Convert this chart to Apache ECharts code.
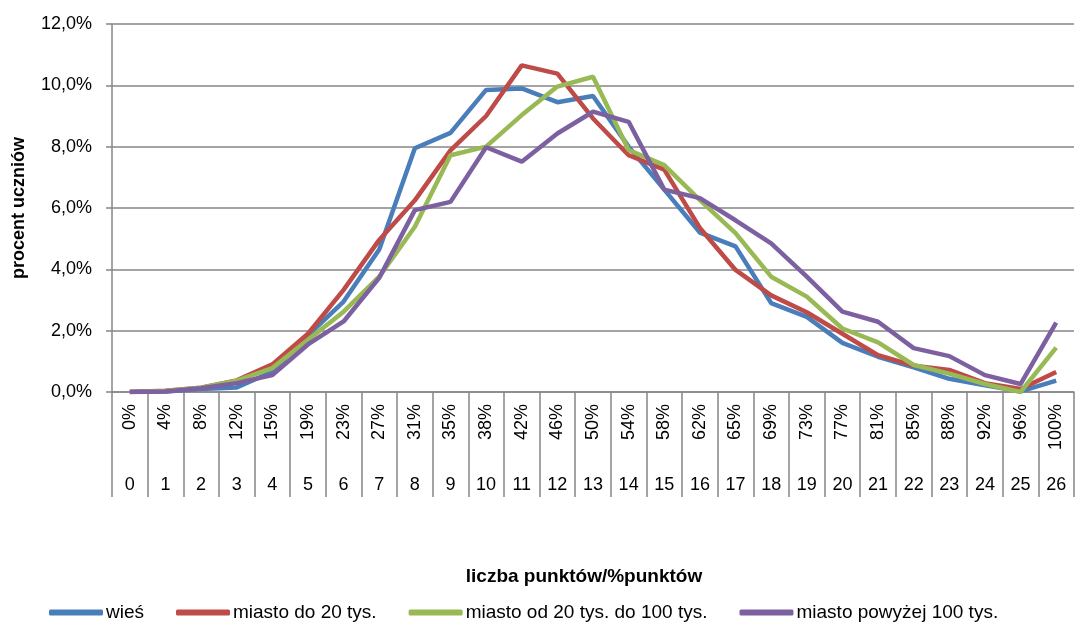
<!DOCTYPE html>
<html>
<head>
<meta charset="utf-8">
<script src="https://cdn.jsdelivr.net/npm/echarts@6/dist/echarts.min.js"></script>
<style>
  html, body { margin: 0; padding: 0; background: #fff; }
  #chart { width: 1076px; height: 622px; }
</style>
</head>
<body>
<div id="chart"></div>
<script>
// kategorie osi X: liczba punktów i procent punktów
const points = ['0', '1', '2', '3', '4', '5', '6', '7', '8', '9', '10', '11', '12', '13',
  '14', '15', '16', '17', '18', '19', '20', '21', '22', '23', '24', '25', '26']
const percents = ['0%', '4%', '8%', '12%', '15%', '19%', '23%', '27%', '31%', '35%', '38%', '42%',
  '46%', '50%', '54%', '58%', '62%', '65%', '69%', '73%', '77%', '81%', '85%', '88%', '92%', '96%', '100%']

// procent uczniów
const wies = [0, 0.02, 0.1, 0.15, 0.66, 1.85, 2.95, 4.65, 7.95, 8.45, 9.85, 9.9, 9.45, 9.65,
  8.0, 6.6, 5.2, 4.75, 2.9, 2.45, 1.6, 1.15, 0.8, 0.43, 0.22, 0.02, 0.37]
const miastoDo20 = [0, 0.04, 0.14, 0.38, 0.9, 1.9, 3.33, 4.96, 6.25, 7.88, 9.0, 10.65, 10.38, 8.92,
  7.72, 7.25, 5.35, 3.98, 3.15, 2.6, 1.9, 1.2, 0.86, 0.72, 0.29, 0.1, 0.65]
const miasto20do100 = [0, 0.03, 0.14, 0.37, 0.78, 1.7, 2.62, 3.76, 5.39, 7.72, 8.0, 9.03, 9.96, 10.28,
  7.89, 7.4, 6.26, 5.18, 3.76, 3.11, 2.07, 1.62, 0.88, 0.6, 0.26, 0.0, 1.45]
const miastoPow100 = [0, 0.02, 0.12, 0.29, 0.55, 1.55, 2.3, 3.72, 5.93, 6.2, 7.98, 7.51, 8.43, 9.14,
  8.81, 6.6, 6.32, 5.6, 4.85, 3.76, 2.62, 2.29, 1.43, 1.17, 0.55, 0.26, 2.26]

const seriesNames = ['wieś', 'miasto do 20 tys.', 'miasto od 20 tys. do 100 tys.', 'miasto powyżej 100 tys.']
const colors = ['#4a7ebb', '#be4b48', '#98b954', '#7d60a0']

const font = 'Liberation Sans'
const gray = '#868686'

let chart = echarts.init(document.getElementById('chart'), null, { renderer: 'canvas' })

let makeLine = (name, data, i) => ({
  name: name,
  type: 'line',
  data: data,
  symbol: 'none',
  smooth: false,
  lineStyle: { width: 4.5, color: colors[i] },
  itemStyle: { color: colors[i] },
  z: 2 + i
})

chart.setOption({
  animation: false,
  grid: { left: 112, right: 2, top: 24, bottom: 230, containLabel: false },
  legend: {
    data: seriesNames,
    left: 44,
    top: 598,
    icon: 'roundRect',
    itemWidth: 54,
    itemHeight: 6,
    itemGap: 32,
    textStyle: { fontFamily: font, fontSize: 19, color: '#000', padding: [0, 0, 0, -2] }
  },
  xAxis: [
    {
      type: 'category',
      data: percents,
      position: 'bottom',
      boundaryGap: true,
      name: 'liczba punktów/%punktów',
      nameLocation: 'middle',
      nameGap: 175,
      nameTextStyle: { fontFamily: font, fontSize: 19, fontWeight: 'bold', color: '#000', padding: [0, 18, 0, 0] },
      axisLine: { show: true, lineStyle: { color: gray, width: 1.5 } },
      axisTick: { show: true, interval: 0, length: 105, lineStyle: { color: gray, width: 1.5 } },
      axisLabel: { interval: 0, rotate: 90, margin: 12, fontFamily: font, fontSize: 18, color: '#000' },
      splitLine: { show: false }
    },
    {
      type: 'category',
      data: points,
      position: 'bottom',
      boundaryGap: true,
      axisLine: { show: false },
      axisTick: { show: false },
      axisLabel: { interval: 0, margin: 84, fontFamily: font, fontSize: 18, color: '#000' },
      splitLine: { show: false }
    }
  ],
  yAxis: {
    type: 'value',
    min: 0,
    max: 12,
    interval: 2,
    name: 'procent uczniów',
    nameLocation: 'middle',
    nameGap: 84,
    nameTextStyle: { fontFamily: font, fontSize: 18, fontWeight: 'bold', color: '#000' },
    axisLine: { show: true, lineStyle: { color: gray, width: 1.5 } },
    axisTick: { show: true, length: 6, lineStyle: { color: gray, width: 1.5 } },
    axisLabel: {
      margin: 20,
      fontFamily: font,
      fontSize: 18,
      color: '#000',
      formatter: (v) => v.toFixed(1).replace('.', ',') + '%'
    },
    splitLine: { show: true, lineStyle: { color: gray, width: 1.5 } }
  },
  series: [
    makeLine(seriesNames[0], wies, 0),
    makeLine(seriesNames[1], miastoDo20, 1),
    makeLine(seriesNames[2], miasto20do100, 2),
    makeLine(seriesNames[3], miastoPow100, 3)
  ]
})
</script>
</body>
</html>
